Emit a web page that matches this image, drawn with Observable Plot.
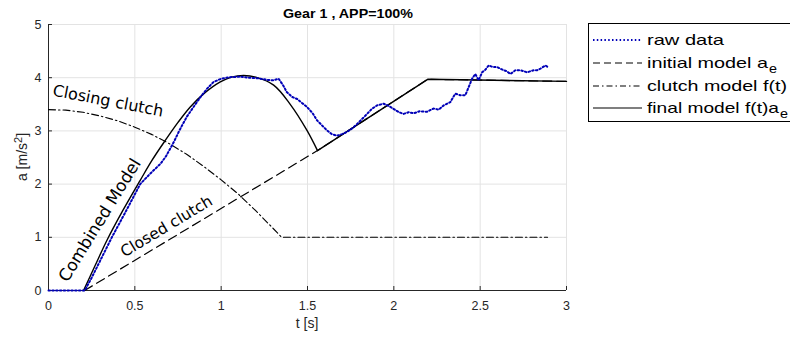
<!DOCTYPE html>
<html><head><meta charset="utf-8">
<script src="https://cdn.jsdelivr.net/npm/d3@7"></script>
<script src="https://cdn.jsdelivr.net/npm/@observablehq/plot@0.6"></script>
<style>body{margin:0;background:#fff}</style>
</head><body><div id="chart"></div>
<script>
// ---- data ----
const xTicks = [0, 0.5, 1, 1.5, 2, 2.5, 3];
const yTicks = [0, 1, 2, 3, 4, 5];

const tRaw = [0,0.1,0.21,0.25,0.29,0.367,0.45,0.531,0.59,0.648,0.68,0.724,0.76,0.80,0.84,0.879,0.92,0.956,1.0,1.05,1.11,1.16,1.21,1.265,1.30,1.333,1.36,1.38,1.41,1.44,1.47,1.497,1.53,1.555,1.585,1.613,1.64,1.671,1.70,1.729,1.76,1.787,1.815,1.845,1.875,1.903,1.941,1.97,2.0,2.03,2.057,2.085,2.115,2.15,2.192,2.23,2.26,2.289,2.327,2.356,2.385,2.414,2.433,2.453,2.472,2.491,2.511,2.53,2.549,2.575,2.598,2.636,2.655,2.675,2.704,2.733,2.755,2.772,2.79,2.81,2.83,2.849,2.878,2.897];
const aRaw = [0,0,0,0.24,0.5,1.0,1.5,2.0,2.2,2.38,2.52,2.78,3.02,3.26,3.45,3.63,3.8,3.92,3.98,4.01,4.02,4.0,3.99,3.96,3.95,3.98,3.85,3.73,3.64,3.60,3.52,3.45,3.33,3.20,3.10,3.01,2.94,2.91,2.94,2.98,3.05,3.13,3.22,3.32,3.42,3.48,3.51,3.47,3.41,3.35,3.32,3.35,3.33,3.37,3.36,3.42,3.40,3.48,3.54,3.70,3.67,3.67,3.82,3.98,4.07,3.95,4.10,4.15,4.23,4.20,4.20,4.14,4.12,4.07,4.14,4.14,4.12,4.10,4.12,4.14,4.14,4.17,4.23,4.19];

const tInit = [0.209, 1.558, 2.196, 3];
const aInit = [0, 2.63, 3.97, 3.93];

const tClutch = [0,0.1,0.2,0.3,0.4,0.5,0.6,0.7,0.8,0.9,1.0,1.1,1.2,1.3,1.35,2.89];
const aClutch = [3.40,3.39,3.35,3.28,3.19,3.07,2.93,2.76,2.56,2.33,2.08,1.81,1.50,1.17,1.0,1.0];

const tFinalA = [0.203,0.27,0.338,0.43,0.531,0.6,0.676,0.75,0.821,0.9,0.995,1.06,1.13,1.2,1.304,1.40,1.497,1.558];
const aFinalA = [0,0.47,0.94,1.50,2.07,2.45,2.82,3.16,3.45,3.70,3.92,4.01,4.04,4.01,3.86,3.50,3.01,2.63];
const tFinalB = [1.558, 2.196, 3];
const aFinalB = [2.63, 3.97, 3.93];

const annLabels = ["Closing clutch", "Combined Model", "Closed clutch"];
const annT = [0.02, 0.11, 0.44];
const annA = [3.665, 0.14, 0.62];
const annAngle = [10.8, -58.4, -31];
const annSize = [16, 16.8, 15.5];

const legendLabels = ["raw data", "initial model a", "clutch model f(t)", "final model f(t)a"];
const legendSubs = ["", "e", "", "e"];
const legendDash = ["1.5,2.3", "7,4", "6,3,1.5,3", null];
const legendColors = ["#0000b8", "#000", "#000", "#000"];

const title = "Gear 1 , APP=100%";
const xLabel = "t [s]";

// ---- tables ----
const zip = (ts, as) => ts.map((t, i) => ({t, a: as[i]}));
const raw = zip(tRaw, aRaw), init = zip(tInit, aInit), clutch = zip(tClutch, aClutch);
const finA = zip(tFinalA, aFinalA), finB = zip(tFinalB, aFinalB);
const ann = annLabels.map((s, i) => ({label: s, t: annT[i], a: annA[i], angle: annAngle[i], size: annSize[i]}));

const ink = "#262626";
const fmt = d => String(d);
const plot = Plot.plot({
  width: 790, height: 338,
  marginLeft: 48, marginRight: 224, marginTop: 24, marginBottom: 48,
  style: {fontFamily: "'Liberation Sans', Arial, sans-serif", background: "#fff", overflow: "visible"},
  x: {domain: [0, 3]},
  y: {domain: [0, 5]},
  marks: [
    Plot.gridX(xTicks, {stroke: "#e3e3e3", strokeOpacity: 1}),
    Plot.gridY(yTicks, {stroke: "#e3e3e3", strokeOpacity: 1}),
    Plot.axisX(xTicks, {tickSize: 0, tickPadding: 11, fontSize: 12.5, color: ink, label: null, tickFormat: fmt}),
    Plot.axisY(yTicks, {tickSize: 0, tickPadding: 7, fontSize: 12.5, color: ink, label: null, tickFormat: fmt}),
    Plot.ruleX([0], {stroke: ink}),
    Plot.ruleY([0], {stroke: ink}),
    Plot.ruleX(xTicks, {y1: 0, y2: 0.075, stroke: ink}),
    Plot.ruleY(yTicks, {x1: 0, x2: 0.023, stroke: ink}),
    Plot.line(init, {x: "t", y: "a", stroke: "#000", strokeWidth: 1.2, strokeDasharray: "9,5"}),
    Plot.line(clutch, {x: "t", y: "a", stroke: "#000", strokeWidth: 1.1, strokeDasharray: "7,3,1.5,3"}),
    Plot.line(finA, {x: "t", y: "a", stroke: "#000", strokeWidth: 1.4, curve: "catmull-rom"}),
    Plot.line(finB, {x: "t", y: "a", stroke: "#000", strokeWidth: 1.4}),
    Plot.line(raw, {x: "t", y: "a", stroke: "#0000b8", strokeWidth: 2, strokeDasharray: "1.5,2.3"}),
    Plot.text(ann, {x: "t", y: "a", text: "label", rotate: "angle", textAnchor: "start", lineAnchor: "bottom",
      fontFamily: "'DejaVu Sans', sans-serif", fontSize: "size", fill: "#000"})
  ]
});
document.getElementById("chart").appendChild(plot);

// ---- title, axis labels, legend ----
const svg = d3.select(plot);
const sans = "'Liberation Sans', Arial, sans-serif";
svg.append("text").attr("x", 283).attr("y", 17.5).attr("text-anchor", "start")
  .attr("font-family", sans).attr("font-weight", "bold")
  .attr("font-size", 12.5).attr("fill", "#000").attr("textLength", 130).attr("lengthAdjust", "spacingAndGlyphs")
  .text(title);
svg.append("text").attr("x", 307).attr("y", 328).attr("text-anchor", "middle")
  .attr("font-family", sans).attr("font-size", 14).attr("fill", ink)
  .text(xLabel);
const yl = svg.append("text").attr("transform", "translate(27,157) rotate(-90)").attr("text-anchor", "middle")
  .attr("font-family", sans).attr("font-size", 14).attr("fill", ink);
yl.append("tspan").text("a [m/s");
yl.append("tspan").attr("dy", -5).attr("font-size", 11).text("2");
yl.append("tspan").attr("dy", 5).text("]");

const lg = svg.append("g");
lg.append("rect").attr("x", 588.5).attr("y", 23.5).attr("width", 220).attr("height", 98)
  .attr("fill", "#fff").attr("stroke", "#000").attr("stroke-width", 1);
const rowY = [40, 63, 86, 108];
const textW = [77, 121, 140, 132];
legendLabels.forEach((lab, i) => {
  const y = rowY[i];
  const ln = lg.append("line").attr("x1", 593).attr("x2", 642).attr("y1", y).attr("y2", y)
    .attr("stroke", legendColors[i]).attr("stroke-width", i === 0 ? 2 : 1.2);
  if (legendDash[i]) ln.attr("stroke-dasharray", legendDash[i]);
  lg.append("text").attr("x", 647).attr("y", y + 5).attr("text-anchor", "start")
    .attr("font-family", sans).attr("font-size", 15).attr("fill", "#000")
    .attr("textLength", textW[i]).attr("lengthAdjust", "spacingAndGlyphs").text(lab);
  if (legendSubs[i]) lg.append("text").attr("x", 647 + textW[i] + 1).attr("y", y + 10).attr("text-anchor", "start")
    .attr("font-family", sans).attr("font-size", 13).attr("fill", "#000")
    .attr("textLength", 8).attr("lengthAdjust", "spacingAndGlyphs").text(legendSubs[i]);
});
</script>
</body></html>
